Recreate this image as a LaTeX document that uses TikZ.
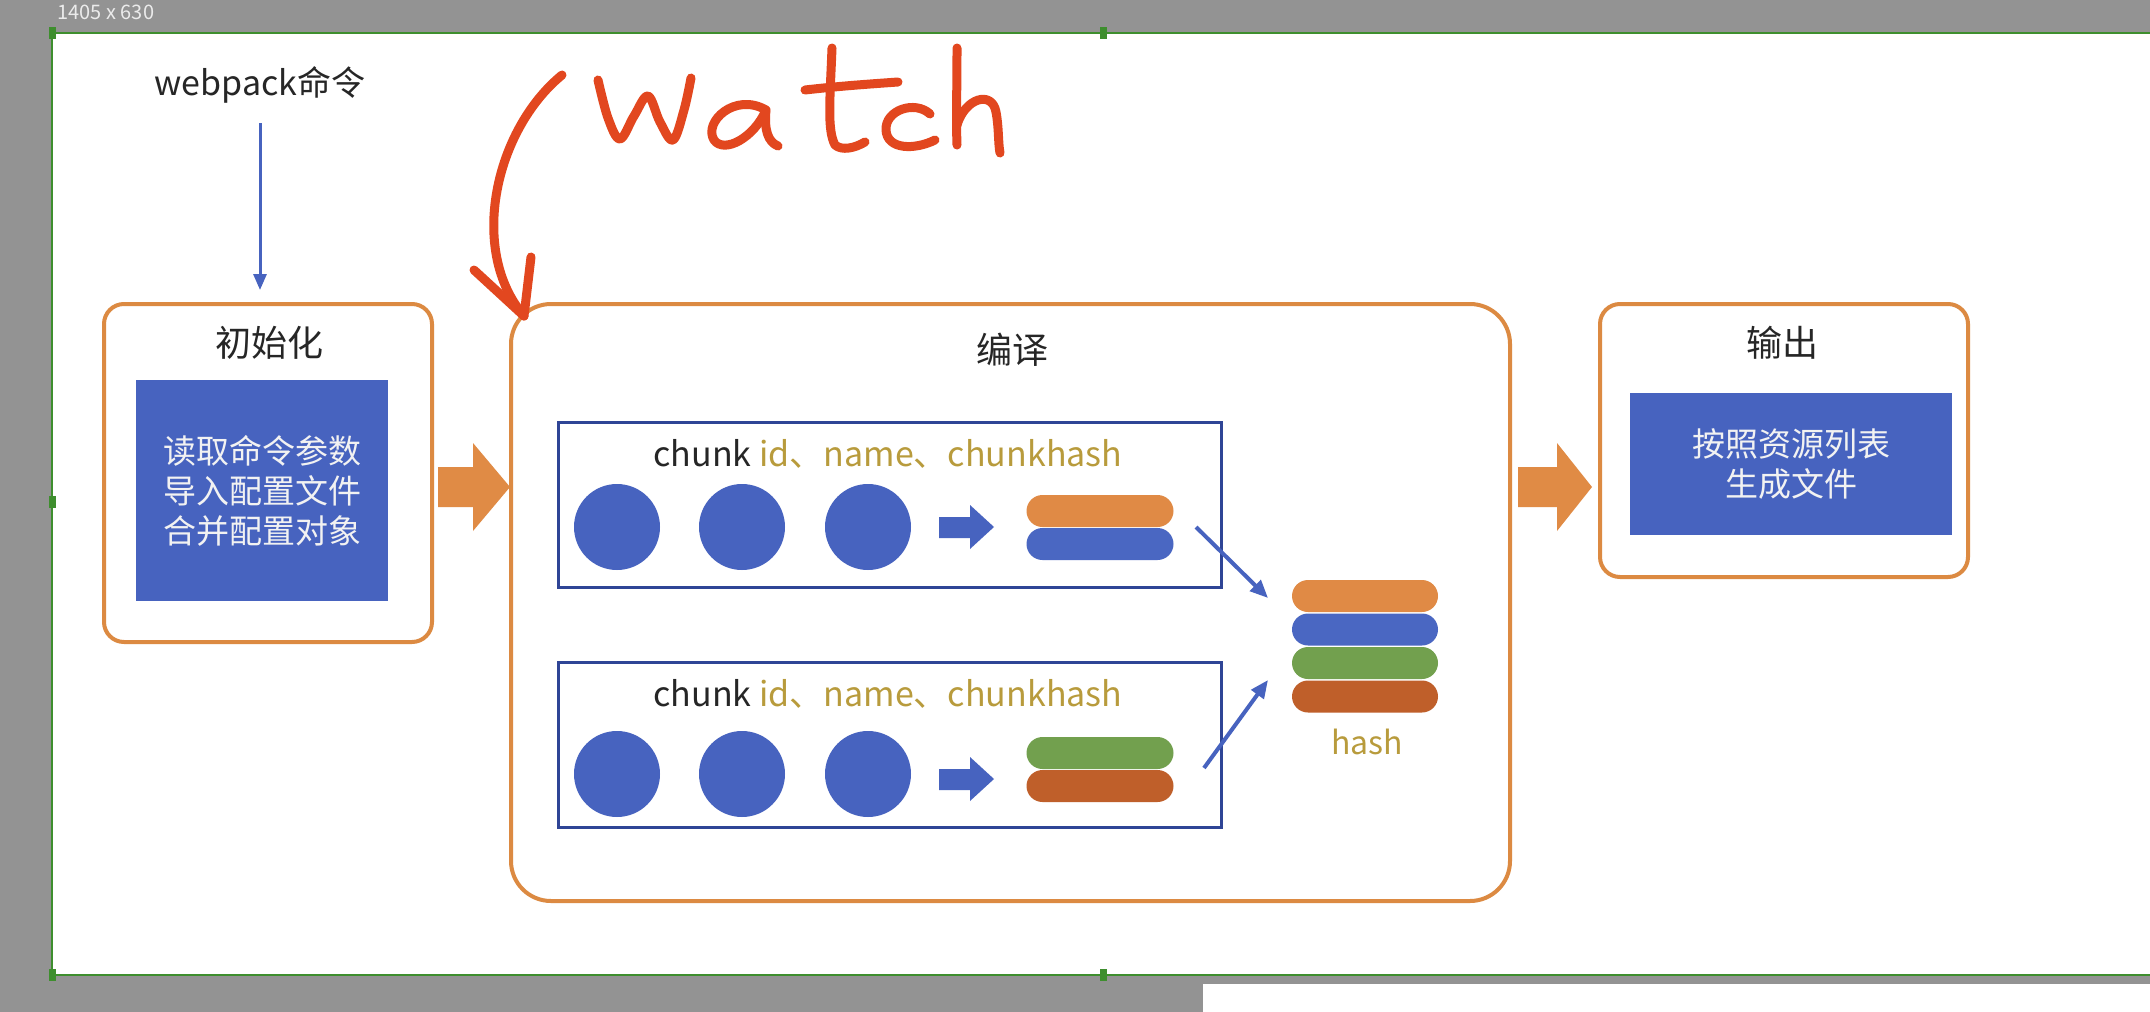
\documentclass[tikz,border=0pt]{standalone}
\usepackage{fontspec}
\setmainfont{Noto Sans CJK SC}
\usetikzlibrary{arrows.meta,calc}
\definecolor{framegray}{HTML}{939393}
\definecolor{selgreen}{HTML}{3E8E2E}
\definecolor{stageorange}{HTML}{DC8A42}
\definecolor{arroworange}{HTML}{E08B45}
\definecolor{boxblue}{HTML}{4763BF}
\definecolor{navy}{HTML}{2F4596}
\definecolor{pillorange}{HTML}{E08A45}
\definecolor{pillblue}{HTML}{4A67C2}
\definecolor{pillgreen}{HTML}{72A04E}
\definecolor{pillbrown}{HTML}{BF5F2A}
\definecolor{gold}{HTML}{B89B3C}
\definecolor{inkred}{HTML}{E2471F}
\begin{document}
\begin{tikzpicture}[x=1pt,y=-1pt,
  stagebox/.style={draw=stageorange,line width=4pt,rounded corners=20pt,inner sep=0pt},
  title/.style={font=\fontsize{36}{40}\selectfont,text=black!85},
  bluebox/.style={fill=boxblue,draw=none,inner sep=0pt,align=center,text=white!95!black,font=\fontsize{33}{40}\selectfont},
  chunkbox/.style={draw=navy,line width=3pt,inner sep=0pt,minimum width=663pt,minimum height=165pt},
  chunktext/.style={font=\fontsize{34}{38}\selectfont,text=black!85},
  ball/.style={circle,fill=boxblue,draw=none,minimum size=86pt,inner sep=0pt},
  pill/.style={draw=none,rounded corners=16pt,minimum width=147pt,minimum height=32pt,inner sep=0pt},
  thinarrow/.style={draw=boxblue,line width=4pt,-{Triangle[length=18pt,width=15pt]}},
  ink/.style={draw=inkred,line width=9pt,line cap=round,line join=round}
]
\useasboundingbox (0,0) rectangle (2150,1012);
% screenshot frame
\fill[framegray] (0,0) rectangle (2150,1012);
\fill[white] (52,33) rectangle (2150,975);
\draw[selgreen,line width=1.5pt] (2150,33) -- (52,33) -- (52,975) -- (2150,975);
\foreach \p in {(52,33),(1103,33),(52,502),(52,975),(1103,975)}
  \fill[selgreen] \p ++(-3.5,-6) rectangle ++(7,12);
\node[anchor=west,text=white!92!black,font=\fontsize{20}{22}\selectfont] (sizelabel) at (54,12) {1405 x 630};
\fill[white] (1203,984) rectangle (2150,1012);

% webpack command
\node[font=\fontsize{34}{38}\selectfont,text=black!85] (cmd) at (260,85) {webpack命令};
\coordinate (cmdarrow) at (260,123);
\coordinate (cmdend) at (260,290);

% stage boxes
\node[stagebox,minimum width=328pt,minimum height=338pt] (init) at (268,473) {};
\node[stagebox,rounded corners=40pt,minimum width=999pt,minimum height=597pt] (compile) at (1010.5,602.5) {};
\node[stagebox,minimum width=368pt,minimum height=273pt] (output) at (1784,440.5) {};

\node[title] (initt) at (269,343) {初始化};
\node[title] (compilet) at (1012,350) {编译};
\node[title] (outputt) at (1782,343) {输出};

\node[bluebox,minimum width=252pt,minimum height=221pt] (initb) at (262,490.5) {读取命令参数\\导入配置文件\\合并配置对象};
\node[bluebox,minimum width=322pt,minimum height=142pt] (outb) at (1791,464) {按照资源列表\\生成文件};

\draw[boxblue,line width=3pt,-{Triangle[length=16pt,width=13pt]}] (cmdarrow) -- (cmdend);

% big block arrows
\fill[arroworange] (438,467) -- (473,467) -- (473,443) -- (510,487) -- (473,531) -- (473,507) -- (438,507) -- cycle;
\fill[arroworange] (1518,467) -- (1557,467) -- (1557,443) -- (1592,487) -- (1557,531) -- (1557,507) -- (1518,507) -- cycle;

% chunk rows
\node[chunkbox] (row1) at (889.5,505) {};
\node[chunkbox] (row2) at (889.5,744.5) {};
\node[chunktext] (t1) at (888,454) {chunk \textcolor{gold}{id、name、chunkhash}};
\node[chunktext] (t2) at (888,694) {chunk \textcolor{gold}{id、name、chunkhash}};

\foreach \x [count=\i] in {617,742,868} {
  \node[ball] (a\i) at (\x,527) {};
  \node[ball] (b\i) at (\x,774) {};
}
\fill[boxblue] (939,517) -- (970,517) -- (970,505) -- (994,527) -- (970,549) -- (970,538) -- (939,538) -- cycle;
\fill[boxblue] (939,769) -- (970,769) -- (970,757) -- (994,779) -- (970,801) -- (970,790) -- (939,790) -- cycle;

\node[pill,fill=pillorange] (p1a) at (1100,511) {};
\node[pill,fill=pillblue] (p1b) at (1100,544) {};
\node[pill,fill=pillgreen] (p2a) at (1100,753) {};
\node[pill,fill=pillbrown] (p2b) at (1100,786) {};

% hash stack
\node[pill,fill=pillorange,minimum width=146pt] (h1) at (1365,596) {};
\node[pill,fill=pillblue,minimum width=146pt] (h2) at (1365,629.5) {};
\node[pill,fill=pillgreen,minimum width=146pt] (h3) at (1365,663) {};
\node[pill,fill=pillbrown,minimum width=146pt] (h4) at (1365,696.5) {};
\node[font=\fontsize{32}{36}\selectfont,text=gold] (hashlabel) at (1367,742) {hash};

\coordinate (s1) at (1196,527);
\coordinate (s2) at (1204,768);
\coordinate (e1) at (1268,598);
\coordinate (e2) at (1268,680);
\draw[thinarrow] (s1) -- (e1);
\draw[thinarrow] (s2) -- (e2);

% handwritten watch annotation
\coordinate (wstart) at (562,75);
\draw[ink] (wstart) .. controls (495,130) and (468,250) .. (524,316);
\draw[ink] (474,270) -- (524,316) -- (531,257);
% w
\draw[ink] plot[smooth,tension=0.6] coordinates {(598,80) (608,118) (620,139) (634,116) (648,96) (660,122) (673,140) (684,110) (691,78)};
% a
\draw[ink] (766,110) .. controls (735,92) and (703,122) .. (714,140) .. controls (724,154) and (754,138) .. (766,110);
\draw[ink] (766,110) .. controls (764,130) and (768,142) .. (778,146);
% t
\draw[ink] (832,48) .. controls (830,100) and (827,130) .. (835,145) .. controls (842,151) and (855,148) .. (865,142);
\draw[ink] (805,90) .. controls (840,86) and (870,84) .. (898,82);
% c
\draw[ink] (930,114) .. controls (915,100) and (885,110) .. (886,130) .. controls (887,150) and (915,150) .. (935,140);
% h
\draw[ink] (957,48) .. controls (957,90) and (956,120) .. (957,145);
\draw[ink] (957,125) .. controls (965,98) and (992,90) .. (996,112) .. controls (999,128) and (998,142) .. (1000,153);
\end{tikzpicture}
\end{document}
